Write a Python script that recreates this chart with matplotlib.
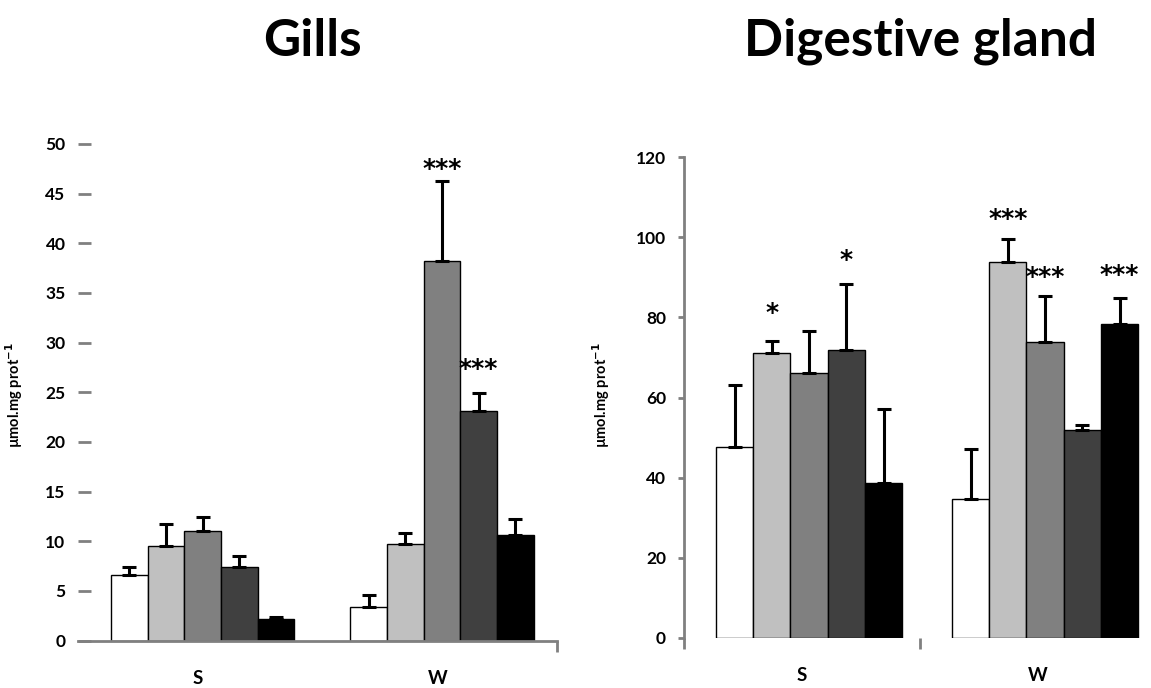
import numpy as np
import matplotlib
matplotlib.use("Agg")
from matplotlib import pyplot as plt
from matplotlib.ticker import FixedLocator

# data
seasons = ["S", "W"]
colors = ["#FFFFFF", "#C0C0C0", "#808080", "#404040", "#000000"]

gills_S = [6.6, 9.5, 11.0, 7.4, 2.2]
gills_S_err = [0.8, 2.2, 1.4, 1.1, 0.2]
gills_W = [3.4, 9.7, 38.2, 23.1, 10.6]
gills_W_err = [1.2, 1.1, 8.1, 1.8, 1.6]

dg_S = [47.7, 71.0, 66.2, 71.8, 38.6]
dg_S_err = [15.4, 3.2, 10.3, 16.4, 18.6]
dg_W = [34.6, 93.7, 73.8, 51.9, 78.3]
dg_W_err = [12.6, 5.8, 11.4, 1.2, 6.5]

# significance marks: (season index, bar index, y, label)
gills_stars = [(1, 2, 48.2, "***"), (1, 3, 28.0, "***")]
dg_stars = [(0, 1, 82.8, "*"), (0, 3, 96.0, "*"), (1, 1, 106.3, "***"),
            (1, 2, 91.8, "***"), (1, 4, 92.3, "***")]

FONT = "Lato"
plt.rcParams['font.family'] = [FONT, 'DejaVu Sans']
plt.rcParams['font.weight'] = 'bold'

fig = plt.figure(figsize=(11.51, 6.88), dpi=100)

ax1 = fig.add_axes([78/1151, 1-640.5/688, 479/1151, 496.5/688])
ax2 = fig.add_axes([684/1151, 1-638/688, 472/1151, 481/688])


def draw(ax, S, S_err, W, W_err, stars, w, shift):
    centers = np.arange(len(seasons)) + shift
    for k in range(5):
        xs = centers + (k - 2) * w
        vals = [S[k], W[k]]
        errs = [S_err[k], W_err[k]]
        ax.bar(xs, vals, width=w, color=colors[k], edgecolor="black",
               linewidth=1, zorder=2)
        ax.errorbar(xs, vals, yerr=[[0, 0], errs], fmt="none", ecolor="black",
                    elinewidth=2.2, capsize=5, capthick=2.2, zorder=3)
    for s, k, y, lab in stars:
        ax.annotate(lab, (centers[s] + (k - 2) * w, y), xytext=(0, -5),
                    textcoords="offset points", ha="center", va="center",
                    fontsize=18, fontweight="bold", family="DejaVu Sans")
    ax.set_xlim(-0.5, 1.5)
    ax.set_xticks(np.arange(len(seasons)))
    ax.set_xticklabels(seasons, fontsize=13.5, fontweight="bold")
    ax.tick_params(axis="x", which="major", length=0, pad=21)
    for t in ax.get_yticklabels():
        t.set_fontweight("bold")
    ax.set_ylabel("µmol.mg prot$^{\\mathbf{-1}}$", fontsize=10.5, fontweight="bold")
    ax.spines["top"].set_visible(False)
    ax.spines["right"].set_visible(False)


draw(ax1, gills_S, gills_S_err, gills_W, gills_W_err, gills_stars, 0.153, 0.02)
ax1.set_ylim(0, 50)
ax1.set_yticks(np.arange(0, 51, 5))
ax1.spines["left"].set_visible(False)
ax1.spines["bottom"].set_color("#808080")
ax1.spines["bottom"].set_linewidth(2)
ax1.tick_params(axis="y", direction="in", length=9, width=2, color="#808080",
                labelsize=12.5, pad=9)
ax1.xaxis.set_minor_locator(FixedLocator([1.5]))
ax1.tick_params(axis="x", which="minor", direction="out", length=8, width=2,
                color="#808080")
ax1.yaxis.set_label_coords(-0.11, 0.494)

draw(ax2, dg_S, dg_S_err, dg_W, dg_W_err, dg_stars, 0.158, 0.03)
ax2.set_ylim(0, 120)
ax2.set_yticks(np.arange(0, 121, 20))
ax2.spines["bottom"].set_visible(False)
ax2.spines["left"].set_color("#808080")
ax2.spines["left"].set_linewidth(2)
ax2.tick_params(axis="y", direction="out", length=4, width=2, color="#808080",
                labelsize=12.5, pad=9)
ax2.xaxis.set_minor_locator(FixedLocator([-0.5, 0.5]))
ax2.tick_params(axis="x", which="minor", direction="out", length=8, width=2,
                color="#808080")
ax2.yaxis.set_label_coords(-0.153, 0.505)

fig.text(312/1151, 1-41/688, "Gills", ha="center", va="center",
         fontsize=37, fontweight="bold")
fig.text(920/1151, 1-41/688, "Digestive gland", ha="center", va="center",
         fontsize=37, fontweight="bold")

fig.savefig("out.png", dpi=100)
